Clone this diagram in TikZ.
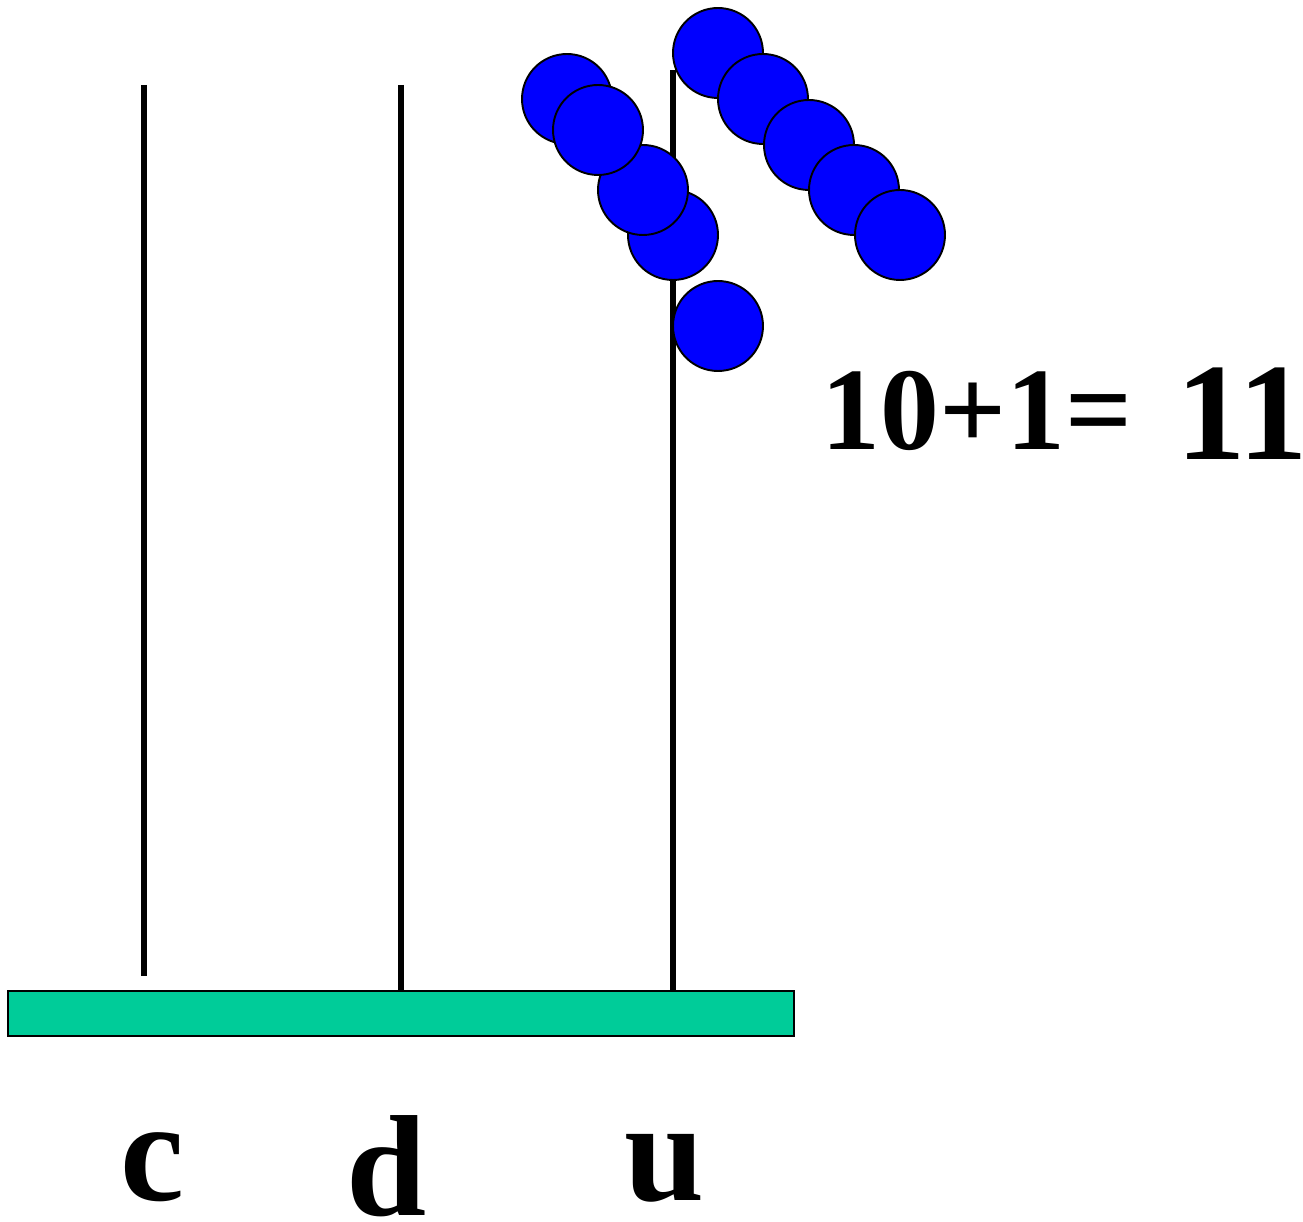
\documentclass[tikz,border=0pt]{standalone}
\usepackage{fontspec}
\setmainfont{Liberation Serif}
\usepackage{tikz}
\definecolor{basegreen}{RGB}{0,204,153}
\definecolor{beadblue}{RGB}{0,0,255}

\begin{document}
\begin{tikzpicture}[x=0.02cm, y=-0.02cm,
    bead/.style={circle, draw=black, line width=1.1pt, fill=beadblue, minimum size=1.8cm, inner sep=0pt},
    rod/.style={line width=3.8pt}]
    \useasboundingbox (0,0) rectangle (1303,1222);
    % rods and base
    \draw[rod] (144,85) -- (144,976);
    \draw[rod] (401,85) -- (401,991);
    \draw[rod] (673,70) -- (673,991);
    \draw[line width=1.1pt, fill=basegreen] (8,991) rectangle (794,1036);
    % beads
    \node[bead] (b1) at (567,99) {};
    \node[bead] (b5) at (718,326) {};
    \node[bead] (b4) at (673,235) {};
    \node[bead] (b3) at (643,190) {};
    \node[bead] (b2) at (598,130) {};
    \node[bead] (b6) at (718,53) {};
    \node[bead] (b7) at (763,99) {};
    \node[bead] (b8) at (809,145) {};
    \node[bead] (b9) at (854,190) {};
    \node[bead] (b10) at (900,235) {};
    % texts
    \node[anchor=base west, inner sep=0pt] (sum) at (821,450) {\fontsize{67}{70}\selectfont\bfseries 10+1=};
    \node[anchor=base west, inner sep=0pt] (res) at (1176,460) {\fontsize{79}{82}\selectfont\bfseries 11};
    \node[anchor=base, inner sep=0pt] (lc) at (152,1201) {\fontsize{82}{84}\selectfont\bfseries c};
    \node[anchor=base, inner sep=0pt] (ld) at (387,1216) {\fontsize{82}{84}\selectfont\bfseries d};
    \node[anchor=base, inner sep=0pt] (lu) at (665,1201) {\fontsize{82}{84}\selectfont\bfseries u};
\end{tikzpicture}
\end{document}
